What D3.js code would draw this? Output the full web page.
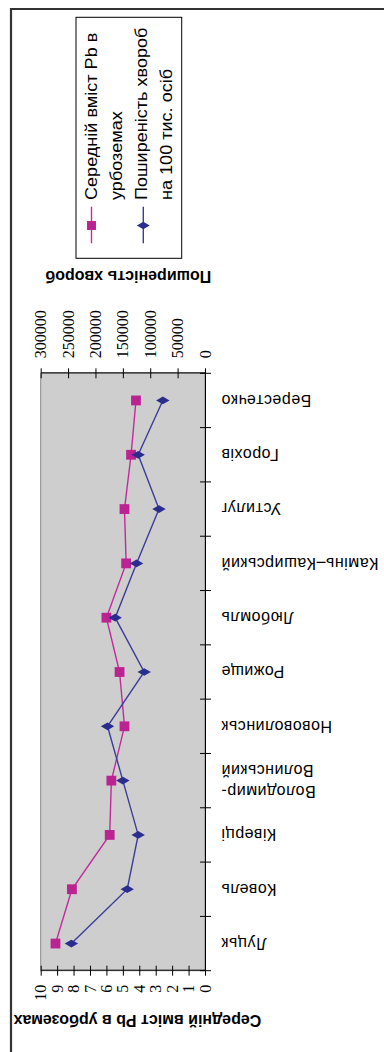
<!DOCTYPE html>
<html>
<head>
<meta charset="utf-8">
<script src="https://cdn.jsdelivr.net/npm/d3@7"></script>
<style>
  html, body { margin: 0; padding: 0; background: #fff; }
  svg { display: block; }
</style>
</head>
<body>
<svg id="chart" width="384" height="1052"></svg>
<script>
// Towns of Volyn region (category axis)
const towns = ["Луцьк", "Ковель", "Ківерці", "Володимир-\nВолинський", "Нововолинськ",
               "Рожище", "Любомль", "Камінь–Каширський", "Устилуг", "Горохів", "Берестечко"];
// Mean Pb content in urban soils (primary axis)
const leadContent = [9.1, 8.1, 5.8, 5.7, 4.9, 5.2, 6.0, 4.8, 4.9, 4.5, 4.2];
// Disease prevalence per 100 thousand people (secondary axis)
const diseaseRate = [244000, 142000, 122000, 150000, 178000, 111000, 164000, 125000, 84000, 122000, 77000];
// Axis tick values
const leadTicks = [0, 1, 2, 3, 4, 5, 6, 7, 8, 9, 10];
const rateTicks = [0, 50000, 100000, 150000, 200000, 250000, 300000];
// Titles and legend
const leadTitle = "Середній вміст Pb в урбоземах";
const rateTitle = "Поширеність хвороб";
const legendItems = [
  { lines: ["Середній вміст Pb в", "урбоземах"], color: "#bb2292", line: "#c42a9c", marker: "square" },
  { lines: ["Поширеність хвороб", "на 100 тис. осіб"], color: "#2b2d8e", line: "#3b3d9a", marker: "diamond" }
];

const PAGE_H = 1052;
const svg = d3.select("#chart");

// The chart is laid out landscape and turned a quarter turn into the portrait page.
const g = svg.append("g").attr("transform", `translate(0,${PAGE_H}) rotate(-90)`);

const plot = { left: 81.3, right: 678.7, top: 40.7, bottom: 205 };
const sans = "Liberation Sans, Arial, sans-serif";
const serif = "Liberation Serif, Times New Roman, serif";

const x = d3.scaleBand().domain(towns).range([plot.left, plot.right]).padding(0);
const yLead = d3.scaleLinear().domain([0, 10]).range([plot.bottom, plot.top]);
const yRate = d3.scaleLinear().domain([0, 300000]).range([plot.bottom, plot.top]);

// Outer frame
g.append("line").attr("x1", 1043).attr("x2", 1043).attr("y1", 10).attr("y2", 384)
  .attr("stroke", "#333").attr("stroke-width", 2.2);
g.append("line").attr("x1", 0).attr("x2", 1044).attr("y1", 11).attr("y2", 11)
  .attr("stroke", "#333").attr("stroke-width", 2.2);

// Plot area
g.append("rect")
  .attr("x", plot.left).attr("y", plot.top)
  .attr("width", plot.right - plot.left).attr("height", plot.bottom - plot.top)
  .attr("fill", "#cecece").attr("stroke", "#8a8a8a").attr("stroke-width", 1);

// Primary value axis
const axLead = g.append("g").attr("transform", `translate(${plot.left},0)`)
  .call(d3.axisLeft(yLead).tickValues(leadTicks).tickFormat(d3.format("d"))
    .tickSize(5).tickPadding(9).tickSizeOuter(0));
axLead.attr("font-family", serif);
axLead.selectAll(".tick line").attr("x1", 5);
axLead.selectAll("text").attr("font-family", serif).attr("font-size", 16).attr("fill", "#000");
axLead.select(".domain").attr("stroke", "#000");

// Secondary value axis
const axRate = g.append("g").attr("transform", `translate(${plot.right},0)`)
  .call(d3.axisRight(yRate).tickValues(rateTicks).tickFormat(d3.format("d"))
    .tickSize(5).tickPadding(10).tickSizeOuter(0));
axRate.attr("font-family", serif);
axRate.selectAll(".tick line").attr("x1", -5);
axRate.selectAll("text").attr("font-family", serif).attr("font-size", 16).attr("fill", "#000");
axRate.select(".domain").attr("stroke", "#000");

// Category axis: line, boundary ticks and rotated labels
const axCat = g.append("g").attr("transform", `translate(0,${plot.bottom})`)
  .call(d3.axisBottom(x).tickSize(0).tickSizeOuter(0).tickFormat(""));
axCat.select(".domain").attr("stroke", "#000");
const bounds = towns.map(t => x(t)).concat([x.range()[1]]);
g.append("g").selectAll("line").data(bounds).join("line")
  .attr("x1", d => d).attr("x2", d => d)
  .attr("y1", plot.bottom - 5).attr("y2", plot.bottom + 6)
  .attr("stroke", "#000");

const catLabels = g.append("g").selectAll("text").data(towns).join("text")
  .attr("transform", d => `translate(${x(d) + x.bandwidth() / 2},${plot.bottom + 16}) rotate(-90)`)
  .attr("text-anchor", "end")
  .attr("font-family", sans).attr("font-size", 16).attr("fill", "#000")
  .attr("letter-spacing", 0.5);
catLabels.each(function (d) {
  const parts = d.split("\n");
  const t = d3.select(this);
  parts.forEach((p, i) => {
    t.append("tspan").attr("x", 0)
      .attr("y", (i - (parts.length - 1) / 2) * 21)
      .attr("dy", "0.35em").text(p);
  });
});

// Axis titles
g.append("text")
  .attr("transform", `translate(31.3,137.5) rotate(-90)`)
  .attr("text-anchor", "middle").attr("dy", "0.35em")
  .attr("font-family", sans).attr("font-size", 16).attr("font-weight", "bold")
  .text(leadTitle);
g.append("text")
  .attr("transform", `translate(775.3,128.3) rotate(-90)`)
  .attr("text-anchor", "middle").attr("dy", "0.35em")
  .attr("font-family", sans).attr("font-size", 16).attr("font-weight", "bold")
  .text(rateTitle);

// Series lines and markers
const line = yScale => d3.line().x((d, i) => x(towns[i]) + x.bandwidth() / 2).y(d => yScale(d));
const series = [
  { values: leadContent, scale: yLead, style: legendItems[0] },
  { values: diseaseRate, scale: yRate, style: legendItems[1] }
];
const square = d3.symbol().type(d3.symbolSquare).size(96);
const diamond = d3.symbol().type(d3.symbolDiamond).size(52);

series.forEach(s => {
  g.append("path").datum(s.values)
    .attr("d", line(s.scale))
    .attr("fill", "none").attr("stroke", s.style.line).attr("stroke-width", 1.4);
});
series.forEach(s => {
  g.append("g").selectAll("path").data(s.values).join("path")
    .attr("transform", (d, i) => `translate(${x(towns[i]) + x.bandwidth() / 2},${s.scale(d)})`)
    .attr("d", s.style.marker === "square" ? square : diamond)
    .attr("fill", s.style.color);
});

// Legend (its text is set a little wider than the regular face)
const leg = g.append("g");
leg.append("rect").attr("x", 793.7).attr("y", 76).attr("width", 241).attr("height", 105.7)
  .attr("fill", "#fff").attr("stroke", "#000").attr("stroke-width", 1);
const legRows = [91.5, 143.3];
const legBaselines = [[96.7, 121.5], [146.7, 171.7]];
legendItems.forEach((it, k) => {
  leg.append("line").attr("x1", 808.7).attr("x2", 845.3)
    .attr("y1", legRows[k]).attr("y2", legRows[k])
    .attr("stroke", it.line).attr("stroke-width", 1.4);
  leg.append("path")
    .attr("transform", `translate(826.5,${legRows[k]})`)
    .attr("d", it.marker === "square" ? d3.symbol().type(d3.symbolSquare).size(80)() : d3.symbol().type(d3.symbolDiamond).size(48)())
    .attr("fill", it.color);
  it.lines.forEach((ln, j) => {
    leg.append("text")
      .attr("transform", `translate(852,${legBaselines[k][j]}) scale(1.13,1)`)
      .attr("font-family", sans).attr("font-size", 16).attr("fill", "#000")
      .text(ln);
  });
});
</script>
</body>
</html>
